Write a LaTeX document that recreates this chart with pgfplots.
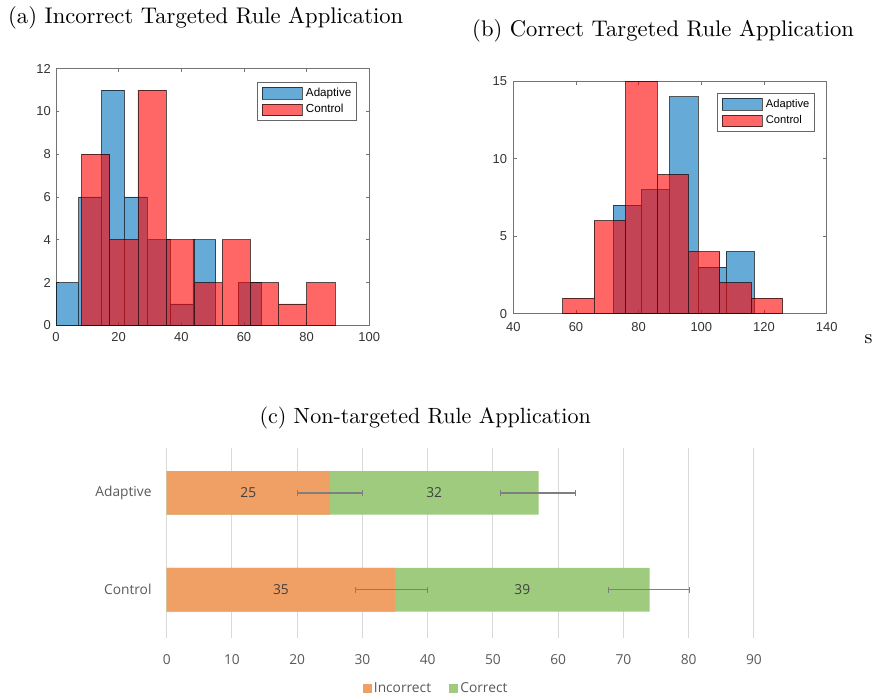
\documentclass[border=0pt]{standalone}
\usepackage{fontspec}
\usepackage{pgfplots}
\pgfplotsset{compat=1.18}
\newfontfamily\helv{Liberation Sans}
\newfontfamily\osans{Open Sans}
\definecolor{mblue}{rgb}{0,0.447,0.741}
\definecolor{mred}{rgb}{1,0,0}
\definecolor{xorange}{RGB}{241,160,101}
\definecolor{xgreen}{RGB}{158,203,125}
\definecolor{xtext}{RGB}{89,89,89}
\definecolor{xgrid}{RGB}{217,217,217}
\definecolor{xerr}{RGB}{127,127,127}
\pgfplotsset{
  mhist/.style={
    scale only axis,
    axis line style={draw=black!55, line width=0.6bp},
    tick style={draw=black!55, line width=0.6bp},
    major tick length=3.5bp, tick align=inside, tick pos=both,
    ticklabel style={font=\helv\fontsize{13}{15}\selectfont, text=black!80},
    /pgf/number format/assume math mode=true,
    x tick label as interval=false,
    legend cell align=left,
    legend style={draw=black!60, line width=0.5bp, fill=white,
      inner xsep=4.4bp, inner ysep=4.4bp, row sep=4.4bp,
      font=\helv\fontsize{11.7}{13}\selectfont,
      nodes={inner sep=0pt, text height=8.5bp, text depth=2.4bp},
      /tikz/every odd column/.append style={column sep=3.3bp}},
  },
  bluebar/.style={ybar interval, fill=mblue, fill opacity=0.6, draw=black, draw opacity=0.65, line width=0.7bp,
    legend image code/.code={\draw[fill=mblue, fill opacity=0.6, draw=black, draw opacity=0.65, line width=0.7bp] (0bp,-5.8bp) rectangle (40bp,5.8bp);}},
  redbar/.style={ybar interval, fill=mred, fill opacity=0.6, draw=black, draw opacity=0.65, line width=0.7bp,
    legend image code/.code={\draw[fill=mred, fill opacity=0.6, draw=black, draw opacity=0.65, line width=0.7bp] (0bp,-5.8bp) rectangle (40bp,5.8bp);}},
  errb/.style={xerr, line width=1.3bp, mark=|, mark size=2.7bp, mark options={line width=1.1bp}, forget plot},
}
\begin{document}
\begin{tikzpicture}
\path[use as bounding box] (0bp,0bp) rectangle (873bp,696bp);
% titles
\node[anchor=base west, inner sep=0pt] at (8bp,672.5bp) {\scalebox{2.27}{(a) Incorrect Targeted Rule Application}};
\node[anchor=base west, inner sep=0pt] at (472bp,659bp) {\scalebox{2.27}{(b) Correct Targeted Rule Application}};
\node[anchor=base west, inner sep=0pt] at (259.3bp,272bp) {\scalebox{2.21}{(c) Non-targeted Rule Application}};
\node[anchor=base west, inner sep=0pt] at (864.5bp,352.5bp) {\scalebox{2.0}{s}};

% panel (a)
\begin{axis}[mhist, at={(56bp,370.7bp)}, anchor=south west, width=313.3bp, height=256.6bp,
  xmin=0, xmax=100, ymin=0, ymax=12,
  xtick={0,20,...,100}, ytick={0,2,...,12},
  xticklabel style={yshift=-3.5bp}, yticklabel style={xshift=-1.7bp},
  legend style={at={(rel axis cs:1,1)}, anchor=north east, xshift=-13.3bp, yshift=-13.6bp}]
\addplot[bluebar] coordinates {(0,2) (7.28,6) (14.56,11) (21.84,6) (29.12,4) (36.4,1) (43.68,4) (50.96,0) (58.24,2) (65.52,0)};
\addlegendentry{Adaptive}
\addplot[redbar] coordinates {(8.19,8) (17.17,4) (26.15,11) (35.13,4) (44.11,2) (53.09,4) (62.07,2) (71.05,1) (80.03,2) (89.01,0)};
\addlegendentry{Control}
\end{axis}

% panel (b)
\begin{axis}[mhist, at={(513.3bp,382.3bp)}, anchor=south west, width=313.4bp, height=232.4bp,
  xmin=40, xmax=140, ymin=0, ymax=15,
  xtick={40,60,...,140}, ytick={0,5,10,15},
  xticklabel style={yshift=-5.6bp}, yticklabel style={xshift=-2.7bp},
  legend style={at={(rel axis cs:1,1)}, anchor=north east, xshift=-12.7bp, yshift=-12bp,
    font=\helv\fontsize{11.2}{13}\selectfont}]
\addplot[bluebar] coordinates {(71.9,7) (80.9,8) (89.9,14) (98.9,3) (107.9,4) (116.9,0)};
\addlegendentry{Adaptive}
\addplot[redbar] coordinates {(55.74,1) (65.77,6) (75.8,15) (85.83,9) (95.86,4) (105.89,2) (115.92,1) (125.95,0)};
\addlegendentry{Control}
\end{axis}

% panel (c)
\begin{axis}[at={(166.7bp,57.7bp)}, anchor=south west, scale only axis, width=587.25bp, height=190bp,
  xmin=0, xmax=90, ymin=-0.5, ymax=1.46,
  axis line style={draw=none}, tick style={draw=none}, major tick length=0pt,
  xtick={0,10,...,90}, ytick={0,1}, yticklabels={Control,Adaptive},
  xmajorgrids, major grid style={draw=xgrid, line width=1bp},
  ticklabel style={font=\osans\fontsize{13.8}{16}\selectfont, text=xtext},
  /pgf/number format/assume math mode=true,
  xticklabel style={inner sep=0pt, yshift=-15.7bp},
  yticklabel style={inner sep=0pt, xshift=-15bp},
  legend columns=2,
  legend style={draw=none, fill=none, at={(rel axis cs:0.3338,-0.265)}, anchor=west, inner sep=0pt,
    font=\osans\fontsize{13.8}{16}\selectfont, text=xtext,
    nodes={inner sep=0pt},
    /tikz/every odd column/.append style={column sep=2.6bp},
    /tikz/every even column/.append style={column sep=18.3bp}}]
\addlegendimage{legend image code/.code={\fill[xorange] (0bp,-4bp) rectangle (8bp,4bp);}}
\addlegendentry{Incorrect}
\addlegendimage{legend image code/.code={\fill[xgreen] (0bp,-4bp) rectangle (8bp,4bp);}}
\addlegendentry{Correct}
\addplot[xbar, bar width=43.7bp, bar shift=0pt, fill=xgreen, draw=none, forget plot] coordinates {(57,1) (74,0)};
\addplot[xbar, bar width=43.7bp, bar shift=0pt, fill=xorange, draw=none, forget plot] coordinates {(25,1) (35,0)};
% error bars (mean +/- error)
\addplot[errb] coordinates {(20,1) (30,1)};
\addplot[errb] coordinates {(51.2,1) (62.6,1)};
\addplot[errb] coordinates {(29,0) (39.95,0)};
\addplot[errb] coordinates {(67.7,0) (80.1,0)};
\addplot[only marks, mark=none, forget plot, nodes near coords, point meta=explicit symbolic,
  nodes near coords style={font=\osans\fontsize{13.8}{16}\selectfont, text=black!75, anchor=center, inner sep=0pt}]
  table[x=x, y=y, meta=lab] {
x y lab
12.5 1 25
41 1 32
17.5 0 35
54.5 0 39
};
\end{axis}
\end{tikzpicture}
\end{document}
